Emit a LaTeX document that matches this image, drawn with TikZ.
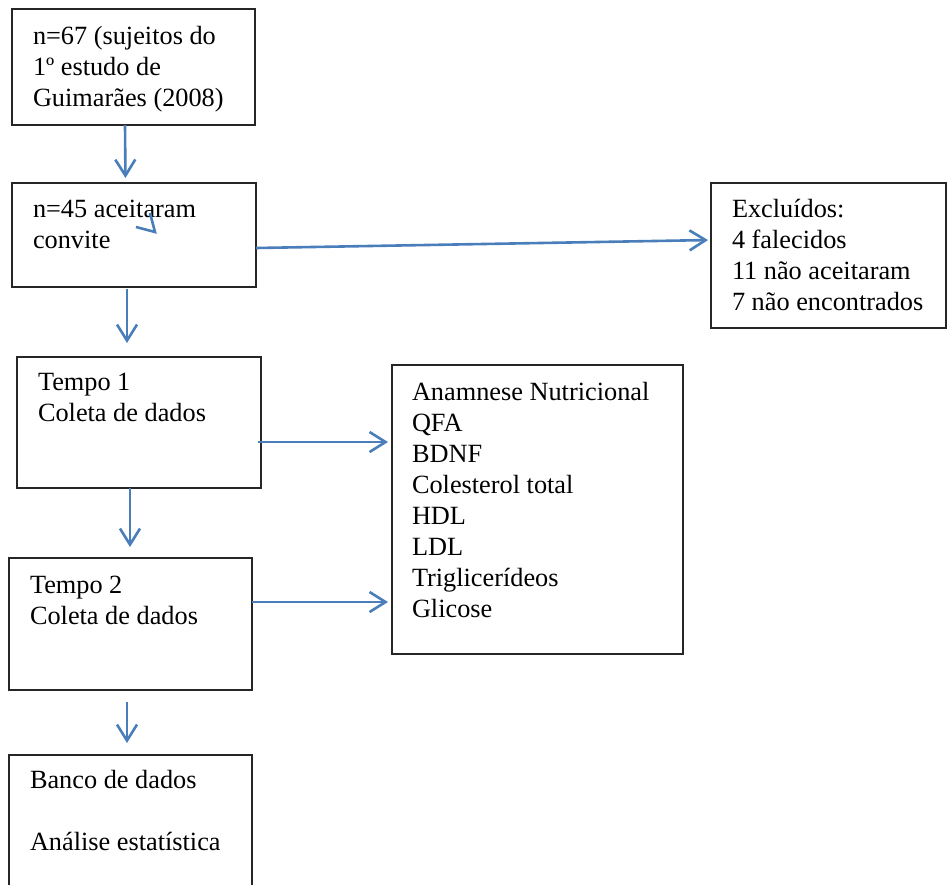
\documentclass[tikz,border=0pt]{standalone}
\usepackage{fontspec}
\setmainfont{Liberation Serif}
\usetikzlibrary{arrows.meta}
\definecolor{arrowblue}{HTML}{4A7EBB}
\definecolor{boxline}{HTML}{262626}
\begin{document}
\begin{tikzpicture}[x=1pt,y=-1pt,
  every node/.style={font=\fontsize{26.3}{31}\selectfont, inner sep=0pt, outer sep=0pt},
  box/.style={draw=boxline, line width=1.3pt, anchor=north west},
  txt/.style={anchor=base west},
  arr/.style={draw=arrowblue, line width=2.6pt, -{Straight Barb[length=16pt,width=20pt]}},
  bluestroke/.style={draw=arrowblue, line width=2.6pt}]
\useasboundingbox (0,0) rectangle (947,884);
\clip (0,0) rectangle (947,884);
% boxes
\node[box, minimum width=243pt, minimum height=116pt] (b1) at (12,9) {};
\node[box, minimum width=244pt, minimum height=104pt] (b2) at (12,183) {};
\node[box, minimum width=235pt, minimum height=145pt] (ex) at (711,183) {};
\node[box, minimum width=244pt, minimum height=131pt] (b3) at (17,357) {};
\node[box, minimum width=291pt, minimum height=289pt] (an) at (392,365) {};
\node[box, minimum width=243pt, minimum height=132pt] (b4) at (9,558) {};
\node[box, minimum width=243pt, minimum height=145pt] (b5) at (9,755) {};
% texts
\node[txt] (t1) at (33,44) {\begin{tabular}[t]{@{}l@{}}n=67 (sujeitos do\\1º estudo de\\Guimarães (2008)\end{tabular}};
\node[txt] (t2) at (33,217) {\begin{tabular}[t]{@{}l@{}}n=45 aceitaram\\convite\end{tabular}};
\node[txt] (tex) at (732,217) {\begin{tabular}[t]{@{}l@{}}Excluídos:\\4 falecidos\\11 não aceitaram\\7 não encontrados\end{tabular}};
\node[txt] (t3) at (38,390) {\begin{tabular}[t]{@{}l@{}}Tempo 1\\Coleta de dados\end{tabular}};
\node[txt] (tan) at (412,400) {\begin{tabular}[t]{@{}l@{}}Anamnese Nutricional\\QFA\\BDNF\\Colesterol total\\HDL\\LDL\\Triglicerídeos\\Glicose\end{tabular}};
\node[txt] (t4) at (30,593) {\begin{tabular}[t]{@{}l@{}}Tempo 2\\Coleta de dados\end{tabular}};
\node[txt] (t5) at (30,788) {\begin{tabular}[t]{@{}l@{}}Banco de dados\\ \\Análise estatística\end{tabular}};
% connectors
\draw[arr, shorten >=5pt] ([xshift=-8.5pt]b1.south) -- ([xshift=-8.5pt]b2.north);
\draw[arr, shorten >=3pt] ([yshift=-13pt]b2.east) -- ([yshift=15.5pt]ex.west);
\draw[arr, shorten <=2pt, shorten >=14pt] ([xshift=-7pt]b2.south) -- ([xshift=-12pt]b3.north);
\draw[arr, shorten >=4pt] ([xshift=-3pt,yshift=-19.5pt]b3.east) -- ([yshift=67.5pt]an.west);
\draw[arr, shorten >=11pt] ([xshift=-9pt]b3.south) -- ([xshift=-0.5pt]b4.north);
\draw[arr, shorten >=4pt] ([yshift=22pt]b4.east) -- ([yshift=-92.5pt]an.west);
\draw[arr, shorten <=12pt, shorten >=12pt] ([xshift=-3.5pt]b4.south) -- ([xshift=-3.5pt]b5.north);
% stray arrowhead inside box 2
\draw[bluestroke] (150,213) -- (155,232) -- (136,227);
\end{tikzpicture}
\end{document}
